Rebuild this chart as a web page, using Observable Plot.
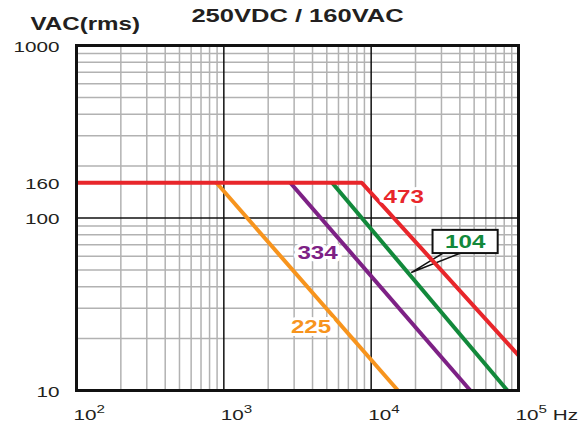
<!DOCTYPE html>
<html>
<head>
<meta charset="utf-8">
<script src="https://cdn.jsdelivr.net/npm/d3@7"></script>
<script src="https://cdn.jsdelivr.net/npm/@observablehq/plot@0.6"></script>
<style>
  html, body { margin: 0; padding: 0; background: white; }
</style>
</head>
<body>
<div id="chart"></div>
<script>
// ---- data ----
const title = "250VDC / 160VAC";
const yTitle = "VAC(rms)";
const codes = ["225", "334", "104", "473"];        // capacitance codes
const kneeHz = [891, 2825, 5430, 8650];             // where the curve leaves 160 VAC
const endHz = [15200, 47100, 84100, 100000];        // last point of each curve
const endVac = [10, 10, 10, 16];
const ratedVac = 160;
const minHz = 100;
const lineColors = ["#f7941d", "#7d2185", "#12893b", "#e8262b"];

const yTicks = [10, 100, 160, 1000];
const xTicks = [1e2, 1e3, 1e4, 1e5];
const xTickLabels = ["10²", "10³", "10⁴", "10⁵ Hz"];

// curve labels (data coordinates)
const labelHz = [3908, 4327, 43500, 16630];
const labelVac = [23.3, 62.2, 72.6, 132];

// callout box and pointer for "104"
const boxHz = [26300, 72800];
const boxVac = [62.2, 84.8];
const pointerHz = [30400, 18700, 39700];
const pointerVac = [62.2, 48.3, 62.2];

// ---- build tables ----
const rows = [];
codes.forEach((c, i) => {
  if (c === "473") rows.push({code: c, hz: minHz, vac: ratedVac});
  rows.push({code: c, hz: kneeHz[i], vac: ratedVac});
  rows.push({code: c, hz: endHz[i], vac: endVac[i]});
});

const xAll = d3.scaleLog().domain([1e2, 1e5]).ticks();
const yAll = d3.scaleLog().domain([10, 1000]).ticks();
const xMinor = xAll.filter(v => !xTicks.includes(v));
const yMinor = yAll.filter(v => ![10, 100, 1000].includes(v));
const xDecades = [1e3, 1e4];
const yDecades = [100];

const ink = "#231f20";
const stretch = 1.38; // the reference type is horizontally widened

const chart = Plot.plot({
  width: 584,
  height: 427,
  marginLeft: 76,
  marginRight: 66,
  marginTop: 45,
  marginBottom: 37,
  x: {type: "log", domain: [1e2, 1e5], axis: null},
  y: {type: "log", domain: [10, 1000], axis: null},
  color: {domain: codes, range: lineColors},
  style: {fontFamily: "'Liberation Sans', Arial, sans-serif", background: "white", overflow: "visible"},
  marks: [
    Plot.ruleX(xMinor, {stroke: "#b2b2b2", strokeWidth: 1.5}),
    Plot.ruleY(yMinor, {stroke: "#b2b2b2", strokeWidth: 1.5}),
    Plot.ruleX(xDecades, {stroke: "#111", strokeWidth: 1.5}),
    Plot.ruleY(yDecades, {stroke: "#111", strokeWidth: 1.5}),
    Plot.line(pointerHz.map((h, i) => [h, pointerVac[i]]), {stroke: "#111", strokeWidth: 1.5, strokeLinejoin: "miter"}),
    Plot.line(rows, {x: "hz", y: "vac", z: "code", stroke: "code", strokeWidth: 4, strokeLinejoin: "miter", strokeLinecap: "butt"}),
    Plot.rect([0], {x1: boxHz[0], x2: boxHz[1], y1: boxVac[0], y2: boxVac[1], fill: "white", stroke: "#111", strokeWidth: 2}),
    Plot.frame({stroke: "#111", strokeWidth: 3}),
    Plot.text(codes, {
      filter: d => d !== "104",
      x: (d, i) => labelHz[i], y: (d, i) => labelVac[i], text: d => d,
      fill: d => d, stroke: "white", strokeWidth: 6,
      fontSize: 17.5, fontWeight: "bold"
    }),
    Plot.text(codes, {
      filter: d => d === "104",
      x: (d, i) => labelHz[i], y: (d, i) => labelVac[i], text: d => d,
      fill: d => d, fontSize: 17.5, fontWeight: "bold"
    }),
    Plot.text(yTicks, {y: d => d, text: d => String(d), frameAnchor: "left", textAnchor: "end", dx: -17, dy: 1.5, fontSize: 15, fill: ink}),
    Plot.text(xTicks, {x: d => d, text: (d, i) => xTickLabels[i], frameAnchor: "bottom", textAnchor: "start", lineAnchor: "bottom", dx: -3, dy: 29, fontSize: 15, fill: ink}),
    Plot.text([title], {frameAnchor: "top", lineAnchor: "bottom", dy: -23.3, fontSize: 18.5, fontWeight: "bold", fill: ink}),
    Plot.text([yTitle], {frameAnchor: "top-left", textAnchor: "start", lineAnchor: "bottom", dx: -46, dy: -15.5, fontSize: 17.5, fontWeight: "bold", fill: ink})
  ]
});

// render unicode superscripts as raised, smaller digits
const supMap = {"²": "2", "³": "3", "⁴": "4", "⁵": "5"};
d3.select(chart).selectAll("text").each(function() {
  const s = this.textContent;
  const m = s.match(/^(\d+)([²³⁴⁵])(.*)$/);
  if (!m || this.children.length) return;
  const t = d3.select(this);
  t.text(null);
  t.append("tspan").text(m[1]);
  t.append("tspan").attr("dy", -6.5).attr("font-size", 11).text(supMap[m[2]]);
  if (m[3]) t.append("tspan").attr("dy", 6.5).text(m[3]);
});

// widen the glyphs horizontally around each text's anchor point
d3.select(chart).selectAll("text").each(function() {
  const t = d3.select(this);
  const x = t.attr("x");
  let tr = t.attr("transform") || "";
  if (x != null && !isNaN(+x)) {
    tr = `translate(${+x},0) ` + tr;
    t.attr("x", null);
  }
  t.attr("transform", `${tr} scale(${stretch},1)`);
});

document.getElementById("chart").appendChild(chart);
</script>
</body>
</html>
